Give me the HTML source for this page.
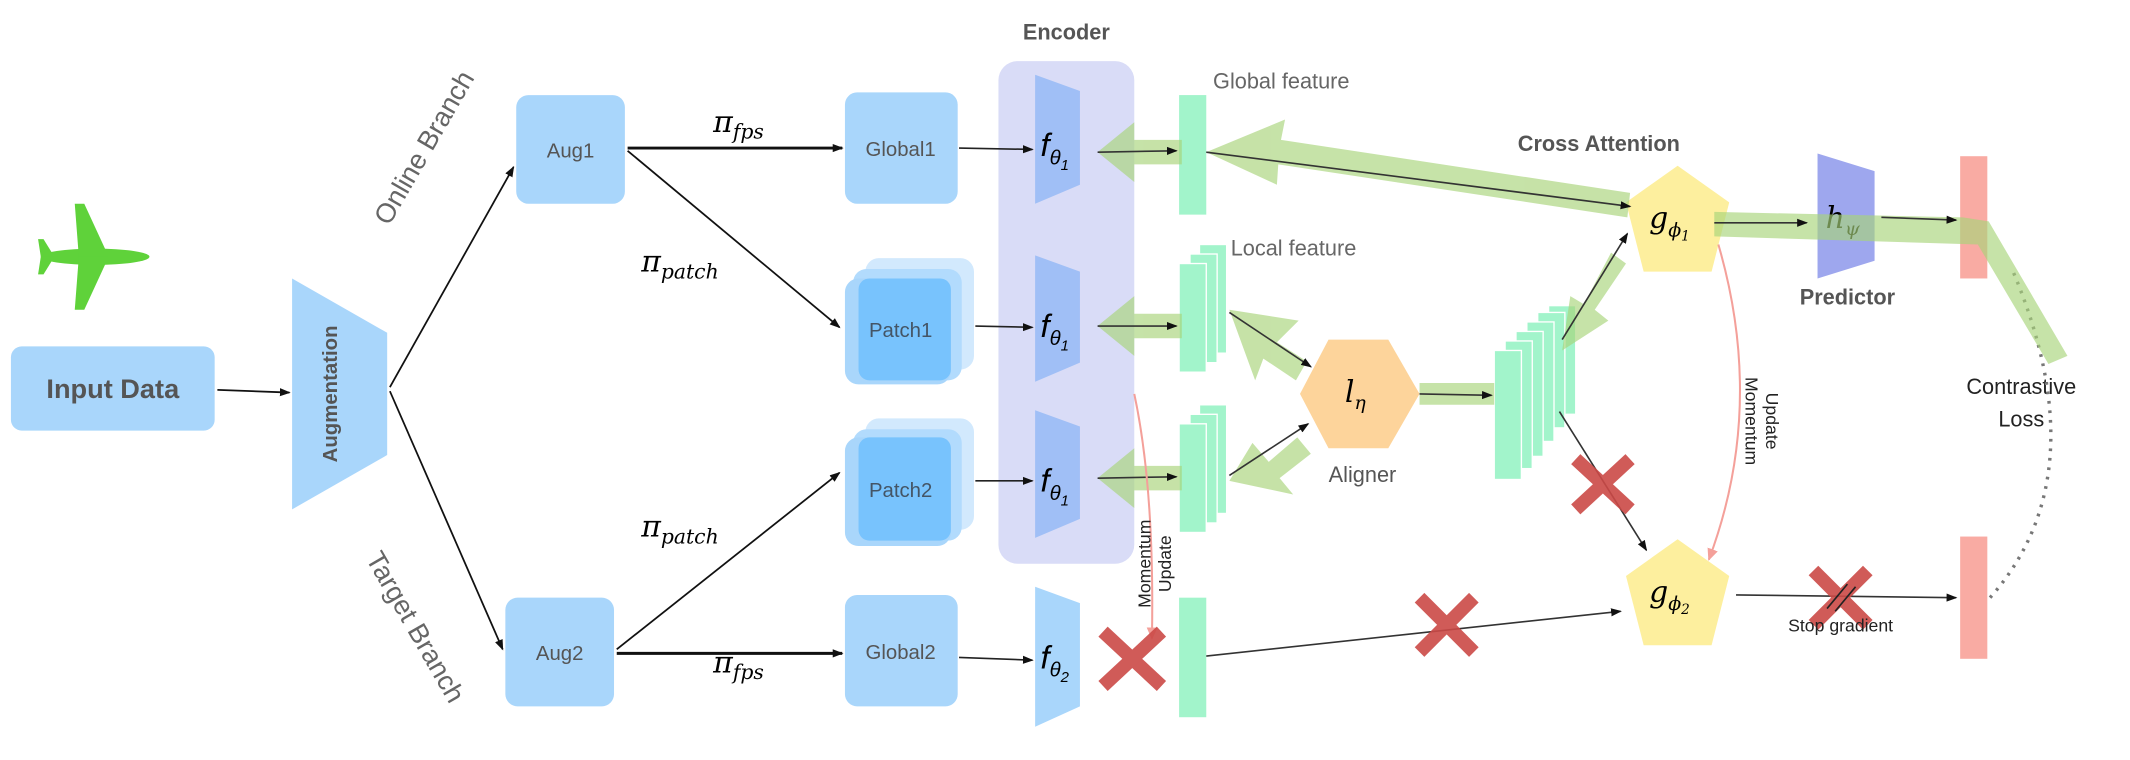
<!DOCTYPE html>
<html><head><meta charset="utf-8"><style>
html,body{margin:0;padding:0;background:#fff;}
svg{display:block;}
text{font-family:"Liberation Sans",sans-serif;}
.m{font-family:"DejaVu Serif",serif;font-style:italic;}
</style></head><body>
<svg width="2130" height="760" viewBox="0 0 1568 559.5" xmlns="http://www.w3.org/2000/svg">
<defs>
<marker id="a" markerWidth="8" markerHeight="8" refX="7" refY="4" orient="auto" markerUnits="userSpaceOnUse"><path d="M0,1 L8,4 L0,7 z" fill="#111"/></marker>
<marker id="ap" markerWidth="10" markerHeight="10" refX="8" refY="5" orient="auto" markerUnits="userSpaceOnUse"><path d="M0,1 L9,5 L0,9 z" fill="#f4a09a"/></marker>
</defs>
<g fill="#5fd23a">
<ellipse cx="70" cy="189" rx="40" ry="6"/>
<polygon points="58,189 80,189 62,150 55,150"/>
<polygon points="58,189 80,189 62,228 55,228"/>
<polygon points="30,189 40,189 32,176 28,176"/>
<polygon points="30,189 40,189 32,202 28,202"/>
</g>
<rect x="8" y="255" width="150" height="62" rx="8" fill="#a9d6fb"/>
<text x="83" y="293" font-size="20" font-weight="bold" fill="#555" text-anchor="middle">Input Data</text>
<line x1="160" y1="287" x2="213" y2="289" stroke="#111" stroke-width="1.3" marker-end="url(#a)"/>
<polygon points="215,205 285,245 285,335 215,375" fill="#a9d6fb"/>
<text transform="translate(248,290) rotate(-90)" font-size="15" font-weight="bold" fill="#555" text-anchor="middle">Augmentation</text>
<text transform="translate(318,112) rotate(-60)" font-size="20" fill="#666" text-anchor="middle">Online Branch</text>
<text transform="translate(300,465) rotate(60)" font-size="20" fill="#666" text-anchor="middle">Target Branch</text>
<line x1="287" y1="285" x2="378" y2="123" stroke="#111" stroke-width="1.3" marker-end="url(#a)"/>
<line x1="287" y1="288" x2="370" y2="478" stroke="#111" stroke-width="1.3" marker-end="url(#a)"/>
<rect x="380" y="70" width="80" height="80" rx="9" fill="#a9d6fb"/>
<text x="420" y="116" font-size="15" fill="#555" text-anchor="middle">Aug1</text>
<rect x="372" y="440" width="80" height="80" rx="9" fill="#a9d6fb"/>
<text x="412" y="486" font-size="15" fill="#555" text-anchor="middle">Aug2</text>
<line x1="462" y1="109" x2="620" y2="109" stroke="#111" stroke-width="2.2" marker-end="url(#a)"/>
<line x1="462" y1="111" x2="618" y2="241" stroke="#111" stroke-width="1.3" marker-end="url(#a)"/>
<line x1="454" y1="478" x2="618" y2="348" stroke="#111" stroke-width="1.3" marker-end="url(#a)"/>
<line x1="454" y1="481" x2="620" y2="481" stroke="#111" stroke-width="2.2" marker-end="url(#a)"/>
<text class="m" x="525" y="97" font-size="22">π<tspan font-size="15" dy="5">fps</tspan></text>
<text class="m" x="472" y="200" font-size="22">π<tspan font-size="15" dy="5">patch</tspan></text>
<text class="m" x="472" y="395" font-size="22">π<tspan font-size="15" dy="5">patch</tspan></text>
<text class="m" x="525" y="495" font-size="22">π<tspan font-size="15" dy="5">fps</tspan></text>
<rect x="622" y="68" width="83" height="82" rx="9" fill="#a9d6fb"/>
<text x="663" y="115" font-size="15" fill="#555" text-anchor="middle">Global1</text>
<rect x="622" y="438" width="83" height="82" rx="9" fill="#a9d6fb"/>
<text x="663" y="485" font-size="15" fill="#555" text-anchor="middle">Global2</text>
<g>
<rect x="637" y="190" width="80" height="82" rx="10" fill="#d2e9fd"/>
<rect x="628" y="198" width="80" height="82" rx="10" fill="#b2dbfd"/>
<rect x="622" y="205" width="78" height="78" rx="10" fill="#a9d6fb"/>
<rect x="632" y="205" width="68" height="75" rx="8" fill="#78c3fd"/>
<text x="663" y="248" font-size="15" fill="#456" text-anchor="middle">Patch1</text>
<rect x="637" y="308" width="80" height="82" rx="10" fill="#d2e9fd"/>
<rect x="628" y="316" width="80" height="82" rx="10" fill="#b2dbfd"/>
<rect x="622" y="322" width="78" height="80" rx="10" fill="#a9d6fb"/>
<rect x="632" y="322" width="68" height="76" rx="8" fill="#78c3fd"/>
<text x="663" y="366" font-size="15" fill="#456" text-anchor="middle">Patch2</text>
</g>
<rect x="735" y="45" width="100" height="370" rx="14" fill="#d9dcf7"/>
<text x="785" y="29" font-size="16" font-weight="bold" fill="#555" text-anchor="middle">Encoder</text>
<g fill="#a0bff6">
<polygon points="762,55 795,67 795,136 762,150"/>
<polygon points="762,188 795,200 795,267 762,281"/>
<polygon points="762,302 795,314 795,382 762,396"/>
</g>
<polygon points="762,432 795,444 795,520 762,535" fill="#a9d6fb"/>
<g class="m" font-size="24">
<text x="766" y="115">f<tspan font-size="15" dy="6">θ</tspan><tspan font-size="11" dy="4">1</tspan></text>
<text x="766" y="248">f<tspan font-size="15" dy="6">θ</tspan><tspan font-size="11" dy="4">1</tspan></text>
<text x="766" y="362">f<tspan font-size="15" dy="6">θ</tspan><tspan font-size="11" dy="4">1</tspan></text>
<text x="766" y="492">f<tspan font-size="15" dy="6">θ</tspan><tspan font-size="11" dy="4">2</tspan></text>
</g>
<line x1="706" y1="109" x2="760" y2="110" stroke="#222" stroke-width="1.2" marker-end="url(#a)"/>
<line x1="718" y1="240" x2="760" y2="241" stroke="#222" stroke-width="1.2" marker-end="url(#a)"/>
<line x1="718" y1="354" x2="760" y2="354" stroke="#222" stroke-width="1.2" marker-end="url(#a)"/>
<line x1="706" y1="484" x2="760" y2="486" stroke="#222" stroke-width="1.2" marker-end="url(#a)"/>
<g fill="#a2f4cb">
<rect x="868" y="70" width="20" height="88"/>
<rect x="883" y="180" width="20" height="80" stroke="#fff" stroke-width="1"/>
<rect x="876" y="187" width="20" height="80" stroke="#fff" stroke-width="1"/>
<rect x="868" y="194" width="20" height="80" stroke="#fff" stroke-width="1"/>
<rect x="883" y="298" width="20" height="80" stroke="#fff" stroke-width="1"/>
<rect x="876" y="305" width="20" height="80" stroke="#fff" stroke-width="1"/>
<rect x="868" y="312" width="20" height="80" stroke="#fff" stroke-width="1"/>
<rect x="868" y="440" width="20" height="88"/>
</g>
<text x="893" y="65" font-size="16" fill="#666">Global feature</text>
<text x="906" y="188" font-size="16" fill="#666">Local feature</text>
<polygon points="978,250 1022,250 1045,290 1022,330 978,330 957,290" fill="#fdd49b"/>
<text class="m" x="990" y="296" font-size="22">l<tspan font-size="14" dy="5">η</tspan></text>
<text x="1003" y="355" font-size="16" fill="#555" text-anchor="middle">Aligner</text>
<g fill="#a2f4cb" stroke="#fff" stroke-width="1">
<rect x="1140" y="225" width="20" height="80"/>
<rect x="1132" y="230" width="20" height="85"/>
<rect x="1124" y="237" width="20" height="88"/>
<rect x="1116" y="244" width="20" height="92"/>
<rect x="1108" y="251" width="20" height="94"/>
<rect x="1100" y="258" width="20" height="95"/>
</g>
<polygon points="1235,122 1273,149 1260,200 1210,200 1197,149" fill="#fdef9e"/>
<polygon points="1235,397 1273,424 1260,475 1210,475 1197,424" fill="#fdef9e"/>
<text class="m" x="1214" y="168" font-size="22">g<tspan font-size="14" dy="6">ϕ</tspan><tspan font-size="10" dy="3">1</tspan></text>
<text class="m" x="1214" y="443" font-size="22">g<tspan font-size="14" dy="6">ϕ</tspan><tspan font-size="10" dy="3">2</tspan></text>
<text x="1177" y="111" font-size="16" font-weight="bold" fill="#555" text-anchor="middle">Cross Attention</text>
<polygon points="1338,113 1380,126 1380,192 1338,205" fill="#9ea7ee"/>
<text class="m" x="1344" y="168" font-size="22">h<tspan font-size="14" dy="5">ψ</tspan></text>
<text x="1360" y="224" font-size="16" font-weight="bold" fill="#555" text-anchor="middle">Predictor</text>
<rect x="1443" y="115" width="20" height="90" fill="#f9aba3"/>
<rect x="1443" y="395" width="20" height="90" fill="#f9aba3"/>
<text x="1488" y="290" font-size="16" fill="#222" text-anchor="middle">Contrastive</text>
<text x="1488" y="314" font-size="16" fill="#222" text-anchor="middle">Loss</text>
<path d="M1465,440 Q1545,350 1482,200" fill="none" stroke="#777" stroke-width="2.5" stroke-dasharray="2,5"/>
<g fill="#a8d479" opacity="0.65">
<polygon points="870,103 835,103 835,90 808,112 835,134 835,121 870,121"/>
<polygon points="1200,142 943,103 946,88 888,112 940,136 941,121 1198,160"/>
<polygon points="1262,156 1445,160 1464,163 1522,262 1508,268 1456,180 1262,174"/>
<polygon points="870,231 835,231 835,218 808,240 835,262 835,249 870,249"/>
<polygon points="870,343 835,343 835,330 808,352 835,374 835,361 870,361"/>
<polygon points="940,252 962,266 954,280 930,264 924,280 905,228 956,236"/>
<polygon points="934,340 955,322 965,334 942,352 952,364 905,354 922,326"/>
<polygon points="1045,282 1100,282 1100,298 1045,298"/>
<polygon points="1197,194 1174,228 1184,236 1150,258 1156,218 1166,224 1186,186"/>
</g>
<g stroke="#333" stroke-width="1.2" fill="none" marker-end="url(#a)">
<line x1="808" y1="112" x2="866" y2="111"/>
<line x1="888" y1="112" x2="1200" y2="152"/>
<line x1="1262" y1="164" x2="1330" y2="164"/>
<line x1="1385" y1="160" x2="1440" y2="162"/>
<line x1="808" y1="240" x2="866" y2="240"/>
<line x1="808" y1="352" x2="866" y2="351"/>
<line x1="905" y1="230" x2="965" y2="270"/>
<line x1="905" y1="350" x2="963" y2="312"/>
<line x1="1045" y1="290" x2="1098" y2="291"/>
<line x1="1150" y1="250" x2="1198" y2="172"/>
<line x1="1148" y1="303" x2="1212" y2="405"/>
<line x1="888" y1="483" x2="1193" y2="450"/>
<line x1="1278" y1="438" x2="1440" y2="440"/>
</g>
<path d="M1265,180 Q1300,300 1258,412" fill="none" stroke="#f4a09a" stroke-width="1.5" marker-end="url(#ap)"/>
<text transform="translate(1285,310) rotate(90)" font-size="13" fill="#222" text-anchor="middle">Momentum</text>
<text transform="translate(1300,310) rotate(90)" font-size="13" fill="#222" text-anchor="middle">Update</text>
<path d="M835,290 Q850,360 848,470" fill="none" stroke="#f4a09a" stroke-width="1.5" marker-end="url(#ap)"/>
<text transform="translate(847,415) rotate(-90)" font-size="13" fill="#222" text-anchor="middle">Momentum</text>
<text transform="translate(862,415) rotate(-90)" font-size="13" fill="#222" text-anchor="middle">Update</text>
<g stroke="#cc4a47" stroke-width="10" opacity="0.9">
<line x1="1160" y1="338" x2="1200" y2="375"/><line x1="1200" y1="338" x2="1160" y2="375"/>
<line x1="1045" y1="440" x2="1085" y2="480"/><line x1="1085" y1="440" x2="1045" y2="480"/>
<line x1="1335" y1="420" x2="1375" y2="460"/><line x1="1375" y1="420" x2="1335" y2="460"/>
<line x1="812" y1="465" x2="855" y2="505"/><line x1="855" y1="465" x2="812" y2="505"/>
</g>
<line x1="1345" y1="448" x2="1360" y2="430" stroke="#222" stroke-width="1.2"/>
<line x1="1351" y1="450" x2="1366" y2="432" stroke="#222" stroke-width="1.2"/>
<text x="1355" y="465" font-size="13" fill="#222" text-anchor="middle">Stop gradient</text>
</svg>
</body></html>
